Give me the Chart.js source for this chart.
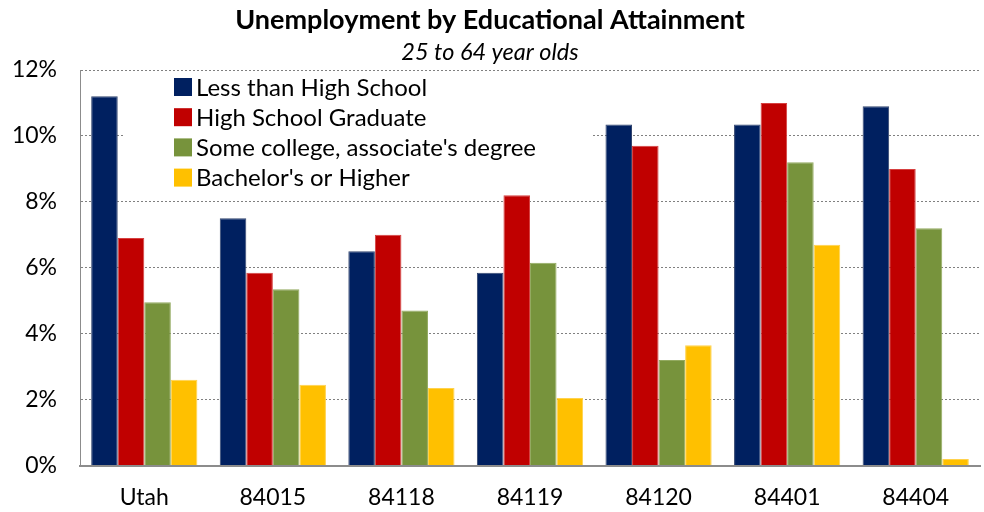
<!DOCTYPE html>
<html>
<head>
<meta charset="utf-8">
<title>Unemployment by Educational Attainment</title>
<script src="https://cdn.jsdelivr.net/npm/chart.js@4"></script>
<style>
  html, body { margin: 0; padding: 0; background: #fff; }
  #wrap { width: 984px; height: 512px; }
</style>
</head>
<body>
<div id="wrap"><canvas id="myChart" width="984" height="512"></canvas></div>
<script>
// areas along the x axis
const categories = ['Utah', '84015', '84118', '84119', '84120', '84401', '84404'];

// unemployment rate (%) for each education level
const lessThanHS  = [11.2, 7.5, 6.5, 5.85, 10.35, 10.35, 10.9];
const hsGrad      = [6.9, 5.85, 7.0, 8.2, 9.7, 11.0, 9.0];
const someCollege = [4.95, 5.35, 4.7, 6.15, 3.2, 9.2, 7.2];
const bachelors   = [2.6, 2.45, 2.35, 2.05, 3.65, 6.7, 0.2];

const seriesNames = ['Less than High School', 'High School Graduate', "Some college, associate's degree", "Bachelor's or Higher"];
const seriesColors = ['#002060', '#C00000', '#77933C', '#FFC000'];
const seriesEdges  = ['#33466f', '#d64040', '#93aa60', '#ffd24d'];

const FONT = 'Lato, "Open Sans", sans-serif';

// legend sits inside the plot, over a white box that hides the grid lines
const insideLegend = {
	id: 'insideLegend',
	beforeDatasetsDraw(chart) {
		const ctx = chart.ctx;
		ctx.save();
		ctx.fillStyle = '#fff';
		ctx.fillRect(123, 72, 470, 122);
		ctx.font = '24px ' + FONT;
		ctx.textBaseline = 'middle';
		chart.data.datasets.forEach((ds, i) => {
			const y = 87 + i * 30.2;
			ctx.fillStyle = ds.backgroundColor;
			ctx.fillRect(174, y - 9, 18, 18);
			ctx.fillStyle = '#000';
			ctx.fillText(ds.label, 196, y + 1);
		});
		ctx.restore();
	}
};

const allSeries = [lessThanHS, hsGrad, someCollege, bachelors];

new Chart(document.getElementById('myChart'), {
	type: 'bar',
	data: {
		labels: categories,
		datasets: allSeries.map((vals, i) => ({
			label: seriesNames[i],
			data: vals,
			backgroundColor: seriesColors[i],
			borderColor: seriesEdges[i],
			borderWidth: 1,
			barPercentage: 1.0,
			categoryPercentage: 0.826
		}))
	},
	options: {
		responsive: false,
		animation: false,
		layout: { padding: { left: 0, right: 4, top: 0, bottom: 0 } },
		plugins: {
			legend: { display: false },
			tooltip: { enabled: false },
			title: {
				display: true,
				text: 'Unemployment by Educational Attainment',
				color: '#000',
				font: { family: FONT, size: 27, weight: 'bold', lineHeight: 1.2 },
				padding: { top: 4, bottom: 2 }
			},
			subtitle: {
				display: true,
				text: '25 to 64 year olds',
				color: '#000',
				font: { family: FONT, size: 23.5, style: 'italic', lineHeight: 1.2 },
				padding: { top: 0, bottom: 3.4 }
			}
		},
		scales: {
			x: {
				grid: { display: false, drawTicks: false },
				border: { display: true, color: '#8c8c8c', width: 2 },
				ticks: { color: '#000', font: { family: FONT, size: 23 }, padding: 18 },
				afterFit(scale) { scale.height = 46.5; }
			},
			y: {
				min: 0,
				max: 12,
				grid: { color: '#808080', drawTicks: false },
				border: { display: true, color: '#8c8c8c', width: 1, dash: [2, 2] },
				ticks: {
					stepSize: 2,
					color: '#000',
					font: { family: FONT, size: 23 },
					padding: 23,
					callback: v => v + '%'
				},
				afterFit(scale) { scale.width = 80; }
			}
		}
	},
	plugins: [insideLegend]
});
</script>
</body>
</html>
